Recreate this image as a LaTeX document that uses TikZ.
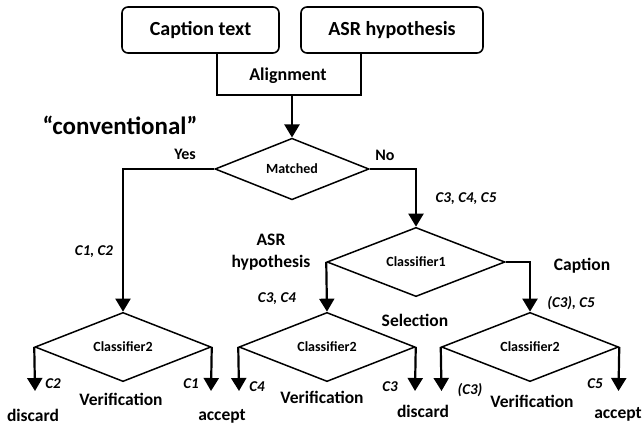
\documentclass[tikz,border=0pt]{standalone}
\usepackage{fontspec}
\setmainfont{Carlito}
\usetikzlibrary{shapes.geometric, arrows.meta}

\begin{document}
\begin{tikzpicture}[x=1pt, y=-1pt, box/.style={draw, rounded corners=6pt, line width=1.6pt, minimum height=46pt, font=\bfseries\fontsize{20}{24}\selectfont}, test/.style={diamond, draw, line width=1.5pt, inner sep=0pt, minimum height=57pt, font=\bfseries\fontsize{14}{16}\selectfont}, lbl/.style={inner sep=0pt, align=center, font=\bfseries\fontsize{17.5}{22}\selectfont}, cls/.style={inner sep=0pt, font=\bfseries\itshape\fontsize{15}{18}\selectfont}, line/.style={line width=2.2pt}, arr/.style={line width=2.2pt, -{Triangle[width=15pt, length=13pt]}}]
		\useasboundingbox (0,0) rectangle (644,426);

		\node (cap)[box, minimum width=157pt] at (200.5,30){Caption text};
		\node (asr)[box, minimum width=182pt] at (392,30){ASR hypothesis};

		\coordinate (alL) at (217,95);
		\coordinate (alR) at (361,95);
		\node (align)[lbl, font=\bfseries\fontsize{18}{22}\selectfont] at (288,76){Alignment};

		\node (conv)[lbl, font=\bfseries\fontsize{25}{30}\selectfont] at (120,125){“conventional”};

		\node (match)[test, minimum width=154pt, minimum height=56pt] at (292,169){Matched};
		\node (cl1)[test, minimum width=178pt, minimum height=58pt] at (416,262){Classifier1};

		\node (c2a)[test, minimum width=176pt] at (123,347){Classifier2};
		\node (c2b)[test, minimum width=176pt] at (327,347){Classifier2};
		\node (c2c)[test, minimum width=177pt] at (530,347){Classifier2};

		\coordinate (oa1) at (35,391);
		\coordinate (oa2) at (211,391);
		\coordinate (ob1) at (239,391);
		\coordinate (ob2) at (415,391);
		\coordinate (oc1) at (441.5,391);
		\coordinate (oc2) at (618.5,391);

		\draw [line](cap.south -| alL) -- (alL) -- (alR) -- (asr.south -| alR);
		\draw [arr](match.north |- alL) -- (match.north);
		\draw [arr](match.west) -| (c2a.north);
		\draw [arr](match.east) -| (cl1.north);
		\draw [arr](cl1.west) -- (c2b.north);
		\draw [arr](cl1.east) -| (c2c.north);

		\draw [arr](c2a.west) -- (oa1);
		\draw [arr](c2a.east) -- (oa2);
		\draw [arr](c2b.west) -- (ob1);
		\draw [arr](c2b.east) -- (ob2);
		\draw [arr](c2c.west) -- (oc1);
		\draw [arr](c2c.east) -- (oc2);

		\node (yes)[lbl, font=\bfseries\fontsize{16}{20}\selectfont] at (185,154){Yes};
		\node (no)[lbl, font=\bfseries\fontsize{16}{20}\selectfont] at (385,155){No};
		\node (k345)[cls] at (466,199){C3, C4, C5};
		\node (k12)[cls] at (94,252){C1, C2};
		\node (asrsel)[lbl] at (271,252){ASR\\hypothesis};
		\node (capsel)[lbl] at (582,266){Caption};
		\node (k34)[cls] at (277,299){C3, C4};
		\node (sel)[lbl] at (415,320){Selection};
		\node (k35)[cls] at (571,303){(C3), C5};

		\node (k2)[cls] at (53,384){C2};
		\node (k1)[cls] at (191,384){C1};
		\node (k4)[cls] at (257,387){C4};
		\node (k3)[cls] at (390,387){C3};
		\node (k3b)[cls] at (470,390){(C3)};
		\node (k5)[cls] at (595,384){C5};

		\node (ver1)[lbl] at (121,399){Verification};
		\node (ver2)[lbl] at (322,397){Verification};
		\node (ver3)[lbl] at (532,401){Verification};

		\node (dis1)[lbl] at (33,415){discard};
		\node (acc1)[lbl] at (222,416){accept};
		\node (dis2)[lbl] at (423,411){discard};
		\node (acc2)[lbl] at (618,414){accept};
	\end{tikzpicture}
\end{document}
